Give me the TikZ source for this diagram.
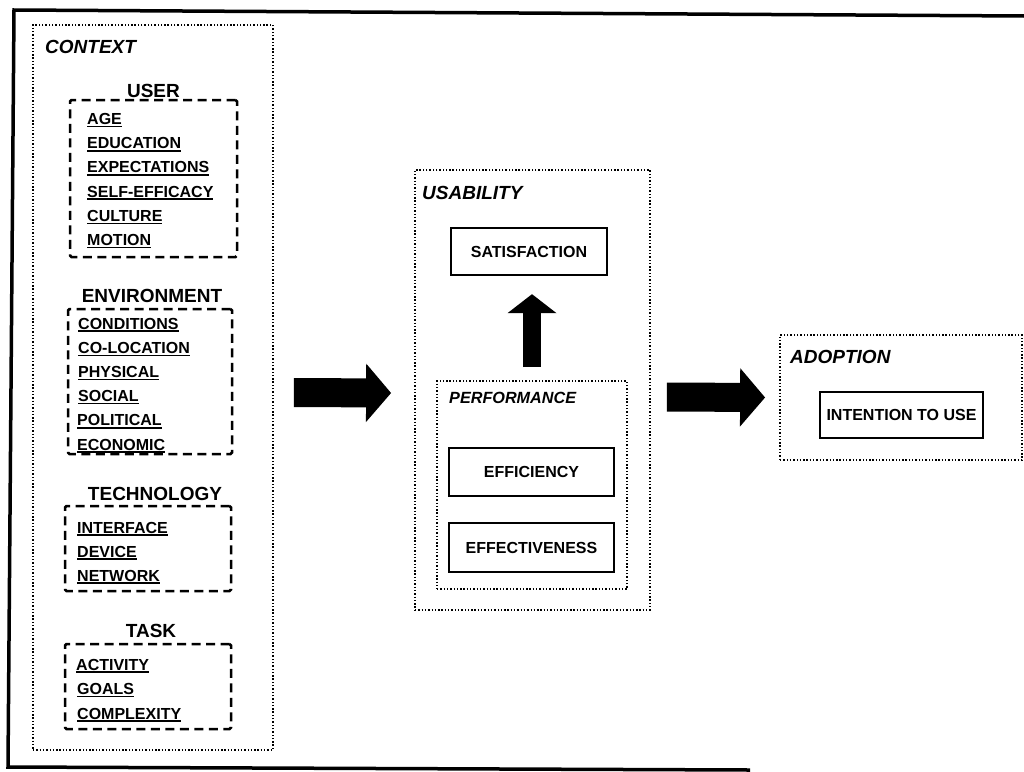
\documentclass[tikz,border=0pt]{standalone}
\usepackage{fontspec}
\setmainfont{Liberation Sans}
\usetikzlibrary{arrows.meta,fit}
\newcommand\myul[1]{\leavevmode\setbox0=\hbox{#1}\copy0\kern-\wd0\rule[-2.8pt]{\wd0}{1.5pt}}
\tikzset{
  frame/.style={line width=3.5pt},
  dotbox/.style={draw, line width=1.8pt, dash pattern=on 1.4pt off 1.9pt, inner sep=0pt},
  dbox/.style={draw, line width=2.5pt, dash pattern=on 9pt off 5.5pt, rounded corners=1.5pt, inner sep=0pt},
  sbox/.style={draw, line width=2.3pt, inner sep=0pt, font=\fontsize{16}{19}\selectfont\bfseries},
  head/.style={anchor=base, font=\fontsize{19}{22}\selectfont\bfseries, inner sep=0pt},
  title/.style={anchor=base west, font=\fontsize{19}{22}\selectfont\bfseries\itshape, inner sep=0pt},
  subtitle/.style={anchor=base west, font=\fontsize{16.2}{19}\selectfont\bfseries\itshape, inner sep=0pt},
  item/.style={anchor=base west, font=\fontsize{16}{19}\selectfont\bfseries, inner sep=0pt},
  bigarrow/.style={line width=29pt, -{Triangle[length=25pt,width=57pt]}},
  uparrow/.style={line width=18pt, -{Triangle[length=19pt,width=48pt]}}
}
\begin{document}
\begin{tikzpicture}[x=1pt,y=-1pt]
\useasboundingbox[fill=white] (0,0) rectangle (1024,771);
% outer frame
\draw[frame] (1024,16) -- (14,10) -- (8,767) -- (750,770);

% CONTEXT
\node[dotbox, fit={(33,25) (273,750)}] (context) {};
\node[title] (contextlbl) at (45,53) {CONTEXT};

% USER
\node[head] (userlbl) at (153.5,97) {USER};
\node[dbox, fit={(70,100) (237,257)}] (userbox) {};
\node[item] (u1) at (87,124.5) {\myul{AGE}};
\node[item] (u2) at (87,148.7) {\myul{EDUCATION}};
\node[item] (u3) at (87,172.9) {\myul{EXPECTATIONS}};
\node[item] (u4) at (87,197.1) {\myul{SELF-EFFICACY}};
\node[item] (u5) at (87,221.3) {\myul{CULTURE}};
\node[item] (u6) at (87,245.5) {\myul{MOTION}};

% ENVIRONMENT
\node[head] (envlbl) at (152,302) {ENVIRONMENT};
\node[dbox, fit={(68,309) (232,454)}] (envbox) {};
\node[item] (e1) at (78,329) {\myul{CONDITIONS}};
\node[item] (e2) at (78,353.2) {\myul{CO-LOCATION}};
\node[item] (e3) at (78,377.4) {\myul{PHYSICAL}};
\node[item] (e4) at (78,401.6) {\myul{SOCIAL}};
\node[item] (e5) at (77,425.8) {\myul{POLITICAL}};
\node[item] (e6) at (77,450) {\myul{ECONOMIC}};

% TECHNOLOGY
\node[head] (techlbl) at (155,500) {TECHNOLOGY};
\node[dbox, fit={(65,506) (231,591)}] (techbox) {};
\node[item] (t1) at (77,533) {\myul{INTERFACE}};
\node[item] (t2) at (77,557) {\myul{DEVICE}};
\node[item] (t3) at (77,581) {\myul{NETWORK}};

% TASK
\node[head] (tasklbl) at (151,637) {TASK};
\node[dbox, fit={(65,644) (231,729)}] (taskbox) {};
\node[item] (k1) at (76,670) {\myul{ACTIVITY}};
\node[item] (k2) at (77,694.5) {\myul{GOALS}};
\node[item] (k3) at (77,719) {\myul{COMPLEXITY}};

% USABILITY
\node[dotbox, fit={(415,170) (650,610)}] (usab) {};
\node[title] (usablbl) at (422,199) {USABILITY};
\node[sbox, minimum width=156pt, minimum height=47pt] (sat) at (529,251.5) {SATISFACTION};
\node[dotbox, fit={(437,381) (627,589)}] (perf) {};
\node[subtitle] (perflbl) at (449,403) {PERFORMANCE};
\node[sbox, minimum width=165pt, minimum height=48pt] (eff) at (531.5,472) {EFFICIENCY};
\node[sbox, minimum width=165pt, minimum height=49pt] (effv) at (531.5,547.5) {EFFECTIVENESS};

% ADOPTION
\node[dotbox, fit={(780,335) (1022,460)}] (adopt) {};
\node[title] (adoptlbl) at (790,363) {ADOPTION};
\node[sbox, minimum width=163pt, minimum height=46pt] (intent) at (901.5,415) {INTENTION TO USE};

% arrows
\draw[bigarrow] ([xshift=20pt,yshift=-5pt]context.east) -- ([xshift=-23pt,yshift=-3pt]usab.west);
\draw[bigarrow] ([xshift=16pt,yshift=-7pt]usab.east) -- ([xshift=-14pt]adopt.west);
\draw[uparrow] ([yshift=13pt]perf.north) -- ([yshift=-18pt]perf.north |- sat.south);
\end{tikzpicture}
\end{document}
